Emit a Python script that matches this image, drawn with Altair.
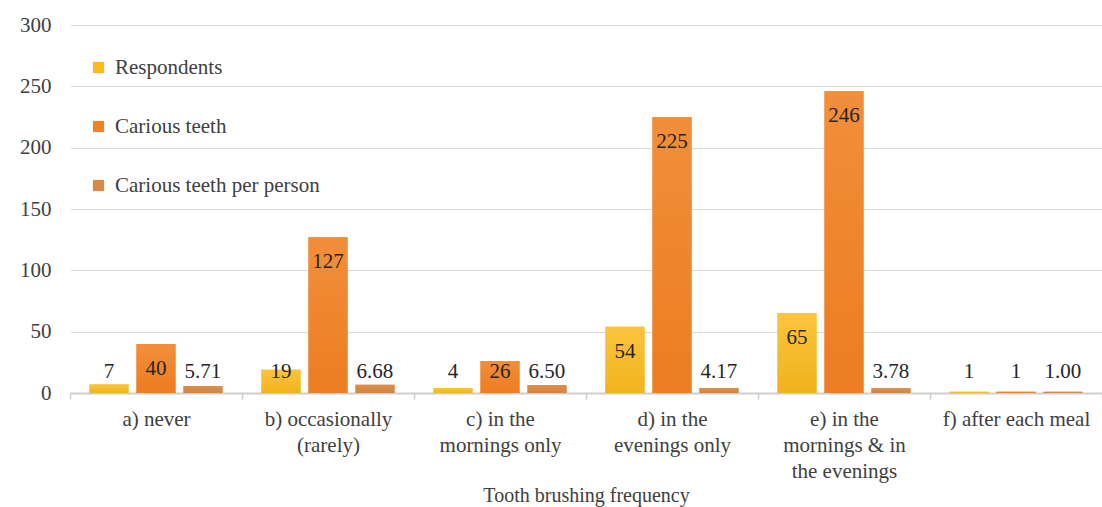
import altair as alt
import pandas as pd

categories = [
    "a) never",
    "b) occasionally\n(rarely)",
    "c) in the\nmornings only",
    "d) in the\nevenings only",
    "e) in the\nmornings & in\nthe evenings",
    "f) after each meal",
]
series_names = ["Respondents", "Carious teeth", "Carious teeth per person"]
respondents = [7, 19, 4, 54, 65, 1]
carious_teeth = [40, 127, 26, 225, 246, 1]
per_person = [5.71, 6.68, 6.50, 4.17, 3.78, 1.00]
series_colors = ["#FBBA1A", "#EF8225", "#D98A45"]
grad_top = ["#FCC43E", "#F28E3A", "#DB8F4E"]
grad_bottom = ["#F1B21C", "#EC7D22", "#D5823B"]

rows = []
for i, c in enumerate(categories):
    rows.append({"cat": c, "series": series_names[0], "value": respondents[i], "label": f"{respondents[i]}"})
    rows.append({"cat": c, "series": series_names[1], "value": carious_teeth[i], "label": f"{carious_teeth[i]}"})
    rows.append({"cat": c, "series": series_names[2], "value": per_person[i], "label": f"{per_person[i]:.2f}"})
df = pd.DataFrame(rows)

FONT = "Liberation Serif"
FS = 21

x_enc = alt.X(
    "cat:N",
    sort=categories,
    scale=alt.Scale(paddingInner=0, paddingOuter=0),
    axis=alt.Axis(
        title="Tooth brushing frequency",
        labelExpr="split(datum.label, '\\n')",
        labelAngle=0,
        labelFontSize=FS,
        labelColor="#404040",
        labelLineHeight=26,
        labelPadding=9,
        labelBaseline="top",
        labelAlign="center",
        tickBand="extent",
        tickSize=6,
        tickColor="#D0CCCC",
        tickWidth=1.5,
        domainColor="#D0CCCC",
        domainWidth=2,
        titleFontSize=20,
        titleFontWeight="normal",
        titleColor="#404040",
        titleBaseline="top",
        titleY=92,
        grid=False,
    ),
)
xoff_enc = alt.XOffset(
    "series:N",
    sort=series_names,
    scale=alt.Scale(domain=series_names, paddingInner=0.17, paddingOuter=0.415),
)
y_enc = alt.Y(
    "value:Q",
    scale=alt.Scale(domain=[0, 300], nice=False),
    axis=alt.Axis(
        title=None,
        values=[0, 50, 100, 150, 200, 250, 300],
        labelFontSize=FS,
        labelColor="#404040",
        labelPadding=19,
        ticks=False,
        domain=False,
        gridColor="#DDD8D8",
        gridWidth=1.2,
    ),
)

base = alt.Chart(df)

bars = base.mark_bar().encode(
    x=x_enc,
    xOffset=xoff_enc,
    y=y_enc,
    color=alt.Color(
        "series:N",
        sort=series_names,
        scale=alt.Scale(domain=series_names, range=series_colors),
        legend=alt.Legend(
            title=None,
            orient="none",
            legendX=18,
            legendY=32,
            symbolType="square",
            symbolSize=125,
            symbolStrokeWidth=0,
            labelFontSize=FS,
            labelColor="#404040",
            labelLimit=0,
            rowPadding=37,
            labelOffset=6,
        ),
    ),
)

grad_layers = []
for i, s in enumerate(series_names):
    grad = alt.Gradient(
        gradient="linear",
        stops=[
            alt.GradientStop(color=grad_top[i], offset=0),
            alt.GradientStop(color=grad_bottom[i], offset=1),
        ],
        x1=0, x2=0, y1=0, y2=1,
    )
    grad_layers.append(
        base.transform_filter(alt.datum.series == s)
        .mark_bar(fill=grad)
        .encode(x=alt.X("cat:N", sort=categories), xOffset=alt.XOffset("series:N", sort=series_names), y="value:Q")
    )

labels = base.transform_calculate(
    ly="max(datum.value, 37.5)"
).mark_text(
    fontSize=FS, color="#262626", baseline="middle", align="center", dy=25
).encode(
    x=alt.X("cat:N", sort=categories),
    xOffset=alt.XOffset("series:N", sort=series_names),
    y=alt.Y("ly:Q"),
    text="label:N",
)

chart = alt.layer(bars, *grad_layers, labels).properties(
    width=1032,
    height=368,
    autosize=alt.AutoSizeParams(type="none"),
    padding={"left": 70, "top": 25, "right": 0, "bottom": 114},
    background="white",
).configure(font=FONT).configure_view(stroke=None).configure_axis(
    labelFont=FONT, titleFont=FONT
).configure_legend(labelFont=FONT).configure_text(font=FONT).configure_mark(font=FONT)

chart.save("out.html", embed_options={"renderer": "svg", "actions": False})
